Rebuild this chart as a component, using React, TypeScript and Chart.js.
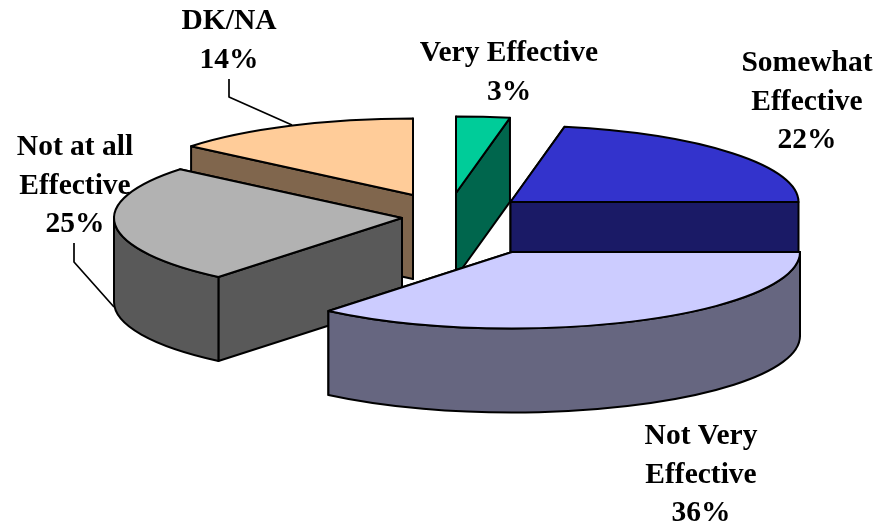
import React, { useEffect, useRef } from "react";
import { Chart, registerables } from "chart.js";

Chart.register(...registerables);

const categories = ["Very Effective", "Somewhat Effective", "Not Very Effective", "Not at all Effective", "DK/NA"];
const shares = [3, 22, 36, 25, 14];
const labelLines = [["Very Effective"], ["Somewhat", "Effective"], ["Not Very", "Effective"], ["Not at all", "Effective"], ["DK/NA"]];

const topColours = ["#00CC99", "#3333CC", "#CCCCFF", "#B2B2B2", "#FFCC99"];
const wallColours = ["#00664D", "#1A1A66", "#666680", "#595959", "#80664D"];

// Layout of the exploded 3-D view (screen pixels)
const sliceApex = [[456, 193], [510.5, 202], [512, 252], [402, 218], [413, 195]];
const labelAnchor = [[509, 61], [807, 71], [701, 444], [75, 155], [229, 29]];
const leaders: (number[][] | null)[] = [
  null, null, null,
  [[74, 243], [74, 262], [114, 307]],
  [[229, 79], [229, 97], [292, 125]],
];
const paintOrder = [4, 0, 1, 3, 2];
const RX = 288;
const RY = 76.5;
const DEPTH = 84;
const LINE_HEIGHT = 38.5;

const pie3d = {
  id: "pie3d",
  beforeDatasetsDraw(chart: any) {
    const ctx: CanvasRenderingContext2D = chart.ctx;
    const arcs = chart.getDatasetMeta(0).data;
    ctx.save();
    ctx.lineWidth = 2;
    ctx.strokeStyle = "#000";
    ctx.lineJoin = "round";
    for (const i of paintOrder) {
      const arc = arcs[i];
      const [ax, ay] = sliceApex[i];
      const a0 = arc.startAngle;
      const a1 = arc.endAngle;
      const pt = (a: number): [number, number] => [ax + RX * Math.cos(a), ay + RY * Math.sin(a)];

      // radial cut walls, the one further back first
      const ends = [a0, a1].sort((p, q) => pt(p)[1] - pt(q)[1]);
      ctx.fillStyle = wallColours[i];
      for (const a of ends) {
        const [px, py] = pt(a);
        ctx.beginPath();
        ctx.moveTo(ax, ay);
        ctx.lineTo(px, py);
        ctx.lineTo(px, py + DEPTH);
        ctx.lineTo(ax, ay + DEPTH);
        ctx.closePath();
        ctx.fill();
        ctx.stroke();
      }

      // curved outer wall: only the part facing the viewer
      const wallFrom = Math.max(a0, 0);
      const wallTo = Math.min(a1, Math.PI);
      if (wallTo > wallFrom) {
        ctx.beginPath();
        ctx.ellipse(ax, ay, RX, RY, 0, wallFrom, wallTo);
        ctx.ellipse(ax, ay + DEPTH, RX, RY, 0, wallTo, wallFrom, true);
        ctx.closePath();
        ctx.fill();
        ctx.stroke();
      }

      // top face: the library's arc, squashed and moved into place
      ctx.save();
      ctx.translate(ax, ay);
      ctx.scale(RX / arc.outerRadius, RY / arc.outerRadius);
      ctx.translate(-arc.x, -arc.y);
      arc.draw(ctx);
      ctx.restore();

      ctx.beginPath();
      ctx.moveTo(ax, ay);
      ctx.ellipse(ax, ay, RX, RY, 0, a0, a1);
      ctx.closePath();
      ctx.stroke();
    }
    ctx.restore();
    return false;
  },
  afterDraw(chart: any) {
    const ctx: CanvasRenderingContext2D = chart.ctx;
    ctx.save();
    ctx.fillStyle = "#000";
    ctx.strokeStyle = "#000";
    ctx.lineWidth = 1.7;
    ctx.lineJoin = "round";
    ctx.font = 'bold 29.5px "Liberation Serif"';
    ctx.textAlign = "center";
    ctx.textBaseline = "alphabetic";
    categories.forEach((_, i) => {
      const lines = [...labelLines[i], `${shares[i]}%`];
      const [lx, ly] = labelAnchor[i];
      lines.forEach((t, k) => ctx.fillText(t, lx, ly + k * LINE_HEIGHT));
      const leader = leaders[i];
      if (leader) {
        ctx.beginPath();
        leader.forEach(([x, y], k) => (k ? ctx.lineTo(x, y) : ctx.moveTo(x, y)));
        ctx.stroke();
      }
    });
    ctx.restore();
  },
};

export default function App() {
  const ref = useRef<HTMLCanvasElement>(null);
  useEffect(() => {
    const chart = new Chart(ref.current!, {
      type: "pie",
      data: {
        labels: categories,
        datasets: [{ data: shares, backgroundColor: topColours, borderWidth: 0, offset: 0 }],
      },
      options: {
        responsive: false,
        animation: false,
        layout: { padding: 0 },
        plugins: { legend: { display: false }, tooltip: { enabled: false } },
      },
      plugins: [pie3d],
    } as any);
    return () => chart.destroy();
  }, []);
  return (
    <div style={{ position: "fixed", left: 0, top: 0, width: 890, height: 527, background: "#fff" }}>
      <canvas ref={ref} width={890} height={527} style={{ display: "block" }} />
    </div>
  );
}
